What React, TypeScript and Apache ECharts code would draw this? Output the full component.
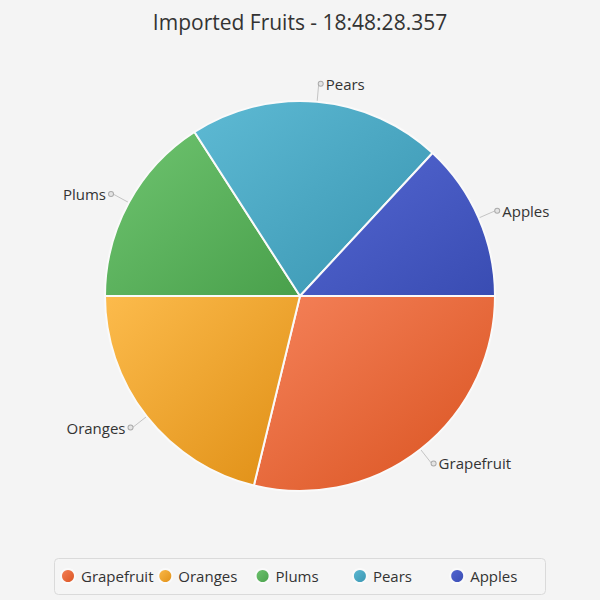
import React, { useEffect, useRef } from "react";
import * as echarts from "echarts";

const titleText = "Imported Fruits - 18:48:28.357";
const categories = ["Grapefruit", "Oranges", "Plums", "Pears", "Apples"];
const values = [28.8, 21.2, 15.9, 21.0, 13.1];
const lightColors = ["#f5825a", "#fcbb4c", "#6fc470", "#5ebad4", "#5467d2"];
const darkColors = ["#d9521f", "#df8e14", "#49a04b", "#3894b0", "#394cb2"];

const FONT = "'Open Sans', 'Noto Sans', sans-serif";

export default function App() {
  const ref = useRef<HTMLDivElement>(null);
  useEffect(() => {
    if (!ref.current) return;
    const chart = echarts.init(ref.current, null, { renderer: "svg" });
    const total = values.reduce((a, b) => a + b, 0);
    let cum = 0;
    const data = categories.map((name, i) => {
      const mid = cum + values[i] / 2;
      cum += values[i];
      const ang = (-mid / total) * Math.PI * 2;
      const right = Math.cos(ang) >= 0;
      const grad = new echarts.graphic.LinearGradient(0, 0, 1, 1, [
        { offset: 0, color: lightColors[i] },
        { offset: 1, color: darkColors[i] },
      ]);
      return {
        name,
        value: values[i],
        itemStyle: { color: grad },
        label: {
          formatter: right ? "{dot| }{n|{b}}" : "{n|{b}}{dot| }",
        },
      };
    });
    const legends = categories.map((name, i) => ({
      data: [name],
      left: 60 + 97.3 * i,
      top: 568,
      padding: 0,
      itemGap: 0,
      itemWidth: 14,
      itemHeight: 14,
      icon: "circle",
      textStyle: {
        fontFamily: FONT,
        fontSize: 15,
        color: "#333333",
        padding: [0, 0, 0, 1],
      },
    }));
    chart.setOption({
      animation: false,
      backgroundColor: "#f4f4f4",
      title: {
        text: titleText,
        left: "center",
        top: 6,
        textStyle: {
          fontFamily: FONT,
          fontSize: 21,
          fontWeight: "normal",
          color: "#333333",
        },
      },
      graphic: [
        {
          type: "rect",
          left: 54,
          top: 558,
          shape: { width: 491, height: 36, r: 4 },
          style: { fill: "#f5f5f5", stroke: "#dadada", lineWidth: 1 },
          z: -1,
          silent: true,
        },
      ],
      legend: legends,
      series: [
        {
          type: "pie",
          center: [300, 296],
          radius: [0, 195],
          startAngle: 0,
          clockwise: true,
          avoidLabelOverlap: false,
          data,
          itemStyle: { borderColor: "#fafafa", borderWidth: 2 },
          label: {
            show: true,
            position: "outside",
            distanceToLabelLine: 0,
            fontFamily: FONT,
            fontSize: 15,
            color: "#333333",
            rich: {
              dot: {
                width: 4,
                height: 4,
                fontSize: 1,
                borderRadius: 3,
                borderColor: "#aaaaaa",
                borderWidth: 1,
                backgroundColor: "#e4e4e4",
              },
              n: {
                fontFamily: FONT,
                fontSize: 15,
                color: "#333333",
                padding: [0, 3, 0, 3],
              },
            },
          },
          labelLine: {
            show: true,
            length: 18,
            length2: 0,
            smooth: false,
            lineStyle: { color: "#c4c4c4", width: 1 },
          },
          emphasis: { disabled: true },
        },
      ],
    });
    return () => chart.dispose();
  }, []);
  return (
    <div
      ref={ref}
      style={{ position: "fixed", left: 0, top: 0, width: 600, height: 600 }}
    />
  );
}
